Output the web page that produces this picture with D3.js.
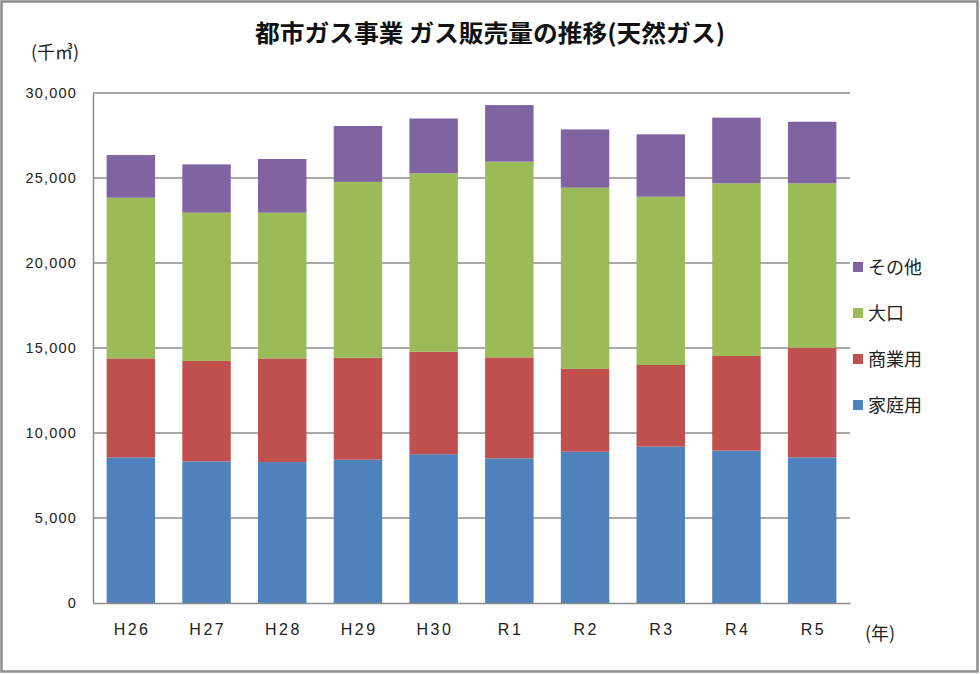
<!DOCTYPE html>
<html><head><meta charset="utf-8">
<script src="https://cdn.jsdelivr.net/npm/d3@7"></script>
<style>body{margin:0;background:#fff}svg{display:block}</style>
</head><body>
<svg id="c" width="980" height="674"></svg>
<script>
const categories = ["H26","H27","H28","H29","H30","R1","R2","R3","R4","R5"];
const seriesNames = ["家庭用","商業用","大口","その他"];
const home       = [8570, 8330, 8290, 8430, 8750, 8510, 8900, 9200, 8960, 8570];
const commercial = [5820, 5910, 6100, 6000, 6030, 5940, 4870, 4800, 5570, 6450];
const large      = [9450, 8720, 8570,10340,10500,11510,10660, 9900,10160, 9670];
const other      = [2510, 2840, 3160, 3290, 3220, 3330, 3430, 3670, 3860, 3620];
const yTicks = [0,5000,10000,15000,20000,25000,30000];
const colors = ["#4f81bd","#c0504d","#9bbb59","#8064a2"];

const JP = '"Noto Sans CJK JP","Noto Sans",sans-serif';
const LAT = '"Liberation Sans",Arial,sans-serif';

const rows = categories.map((c,i)=>({cat:c,"家庭用":home[i],"商業用":commercial[i],"大口":large[i],"その他":other[i]}));
const stack = d3.stack().keys(seriesNames)(rows);

const svg = d3.select("#c");
svg.append("rect").attr("x",1.5).attr("y",1.5).attr("width",976).attr("height",670)
  .attr("fill","#fff").attr("stroke","#8c8c8c").attr("stroke-width",2.5);

const L=93,R=850,T=93,B=603;
const x = d3.scaleBand().domain(categories).range([L,R]).paddingInner(0.36).paddingOuter(0.18);
const y = d3.scaleLinear().domain([0,30000]).range([B,T]);

// gridlines
svg.append("g").selectAll("line").data(yTicks.filter(d=>d>0)).join("line")
  .attr("x1",L).attr("x2",R).attr("y1",d=>y(d)).attr("y2",d=>y(d))
  .attr("stroke","#8c8c8c").attr("stroke-width",1.5);

// bars
svg.append("g").selectAll("g").data(stack).join("g").attr("fill",(d,i)=>colors[i])
  .selectAll("rect").data(d=>d).join("rect")
  .attr("x",d=>x(d.data.cat)).attr("width",x.bandwidth())
  .attr("y",d=>y(d[1])).attr("height",d=>y(d[0])-y(d[1]));

// axes
const ya = d3.axisLeft(y).tickValues(yTicks).tickFormat(d3.format(",")).tickSize(0).tickPadding(16);
const gy = svg.append("g").attr("transform",`translate(${L},0)`).call(ya);
gy.select(".domain").attr("stroke","#8c8c8c").attr("stroke-width",1.5);
gy.selectAll("text").style("font-size","14.5px").style("fill","#222").style("font-family",LAT).style("letter-spacing","1.2px");

const xa = d3.axisBottom(x).tickSize(0).tickPadding(21);
const gx = svg.append("g").attr("transform",`translate(0,${B})`).call(xa);
gx.select(".domain").attr("stroke","#8c8c8c").attr("stroke-width",1.5);
gx.selectAll("text").style("font-size","16px").style("fill","#222").style("font-family",LAT)
  .style("letter-spacing","2.5px").attr("dx","1.2");

// title
svg.append("text").attr("x",255).attr("y",42)
  .attr("textLength",470).attr("lengthAdjust","spacingAndGlyphs")
  .style("font-family",JP).style("font-size","24px").style("font-weight","bold").style("fill","#111")
  .text("都市ガス事業 ガス販売量の推移(天然ガス)");
svg.append("text").attr("x",31).attr("y",59).style("font-family",JP).style("font-size","18px").style("fill","#222").text("(千㎥)");
svg.append("text").attr("x",865).attr("y",640).style("font-family",JP).style("font-size","18px").style("fill","#222").text("(年)");

// legend
const legendOrder = ["その他","大口","商業用","家庭用"];
const legY = [267,313,359,405];
const lg = svg.append("g").selectAll("g").data(legendOrder).join("g")
  .attr("transform",(d,i)=>`translate(853,${legY[i]})`);
lg.append("rect").attr("x",0).attr("y",-5).attr("width",10).attr("height",10)
  .attr("fill",d=>colors[seriesNames.indexOf(d)]);
lg.append("text").attr("x",15).attr("y",6.5).style("font-family",JP).style("font-size","18px").style("fill","#222").text(d=>d);
</script>
</body></html>
